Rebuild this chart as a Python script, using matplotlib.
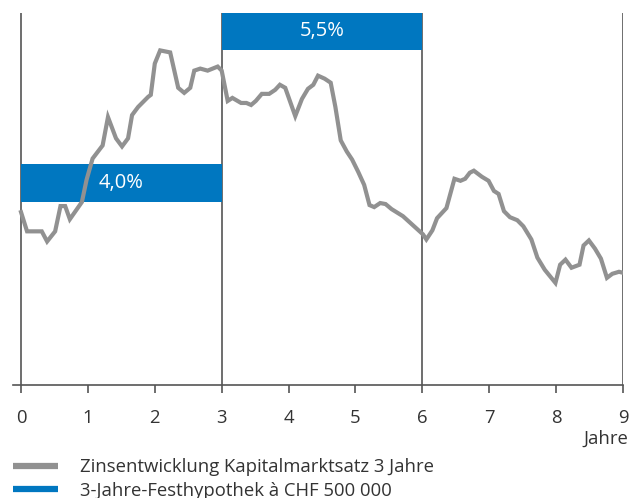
import matplotlib.pyplot as plt
from matplotlib.lines import Line2D

plt.rcParams['font.family'] = ['Open Sans', 'DejaVu Sans']

# Zinsentwicklung Kapitalmarktsatz 3 Jahre
jahre = [0.00, 0.09, 0.31, 0.39, 0.51, 0.59, 0.66, 0.73, 0.91, 0.98,
         1.07, 1.22, 1.30, 1.42, 1.51, 1.60, 1.66, 1.75, 1.90, 1.94,
         2.00, 2.08, 2.23, 2.35, 2.44, 2.53, 2.59, 2.68, 2.79, 2.94,
         3.00, 3.09, 3.16, 3.29, 3.37, 3.44, 3.51, 3.60, 3.71, 3.80,
         3.87, 3.95, 4.10, 4.20, 4.29, 4.37, 4.44, 4.54, 4.63, 4.70,
         4.78, 4.87, 4.95, 5.04, 5.13, 5.21, 5.28, 5.37, 5.45, 5.54,
         5.71, 5.86, 6.01, 6.06, 6.15, 6.22, 6.29, 6.36, 6.48, 6.57,
         6.64, 6.71, 6.77, 6.89, 6.99, 7.07, 7.14, 7.22, 7.31, 7.42,
         7.51, 7.63, 7.72, 7.83, 7.99, 8.06, 8.14, 8.23, 8.35, 8.41,
         8.49, 8.58, 8.67, 8.76, 8.84, 8.94, 9.00]
zins = [3.71, 3.52, 3.52, 3.42, 3.52, 3.77, 3.77, 3.64, 3.81, 4.03,
        4.24, 4.37, 4.65, 4.44, 4.36, 4.44, 4.67, 4.75, 4.85, 4.87,
        5.18, 5.31, 5.29, 4.94, 4.89, 4.94, 5.11, 5.13, 5.11, 5.15,
        5.11, 4.81, 4.84, 4.79, 4.79, 4.77, 4.81, 4.88, 4.88, 4.92,
        4.97, 4.94, 4.66, 4.83, 4.93, 4.97, 5.06, 5.03, 4.99, 4.75,
        4.42, 4.31, 4.23, 4.11, 3.98, 3.78, 3.76, 3.80, 3.79, 3.74,
        3.67, 3.58, 3.49, 3.44, 3.53, 3.65, 3.70, 3.75, 4.04, 4.02,
        4.04, 4.10, 4.12, 4.06, 4.02, 3.92, 3.89, 3.72, 3.66, 3.63,
        3.57, 3.44, 3.26, 3.14, 3.01, 3.19, 3.24, 3.16, 3.19, 3.38,
        3.43, 3.35, 3.25, 3.06, 3.10, 3.12, 3.11]

# 3-Jahre-Festhypothek
hyp_start = [0, 3]
hyp_satz = [4.0, 5.5]
hyp_labels = ['4,0%', '5,5%']

grau = '#919191'
blau = '#0077c0'
achse = '#555555'
schrift = '#333333'
fs = 13.3

fig = plt.figure(figsize=(6.4, 4.98), dpi=100)
ax = fig.add_axes([13 / 640, 1 - 385 / 498, 610 / 640, 372 / 498])

ax.bar(hyp_start, 0.37, width=3, bottom=[s - 0.185 for s in hyp_satz],
       align='edge', color=blau, zorder=2)
for s, v, lab in zip(hyp_start, hyp_satz, hyp_labels):
    ax.text(s + 1.5, v, lab, color='white', fontsize=14.5,
            ha='center', va='center', zorder=4)

for xv in [0, 3, 6, 9]:
    ax.axvline(xv, color=achse, lw=1.2, zorder=1)

ax.plot(jahre, zins, color=grau, lw=3, zorder=3, solid_joinstyle='miter')

ax.set_xlim(-0.12, 9)
ax.set_ylim(2.0, 5.68)
for side in ['left', 'right', 'top']:
    ax.spines[side].set_visible(False)
ax.spines['bottom'].set_color(achse)
ax.spines['bottom'].set_linewidth(1.2)
ax.set_yticks([])
ax.set_xticks(range(10))
ax.tick_params(axis='x', direction='out', length=6, width=1.2,
               color=achse, labelsize=fs, pad=11.5, labelcolor=schrift)

fig.text(628 / 640, 1 - 439 / 498, 'Jahre', ha='right', va='center',
         fontsize=fs, color=schrift)

handles = [Line2D([], [], color=grau, lw=4.5, solid_capstyle='butt'),
           Line2D([], [], color=blau, lw=4.5, solid_capstyle='butt')]
labels = ['Zinsentwicklung Kapitalmarktsatz 3 Jahre',
          '3-Jahre-Festhypothek à CHF 500 000']
fig.legend(handles, labels, loc='upper left',
           bbox_to_anchor=(13 / 640, 1 - 458 / 498), frameon=False,
           fontsize=fs, handlelength=2.43, handletextpad=1.19,
           labelspacing=0.3, borderpad=0, borderaxespad=0,
           labelcolor=schrift)

fig.savefig('out.png', dpi=100)
